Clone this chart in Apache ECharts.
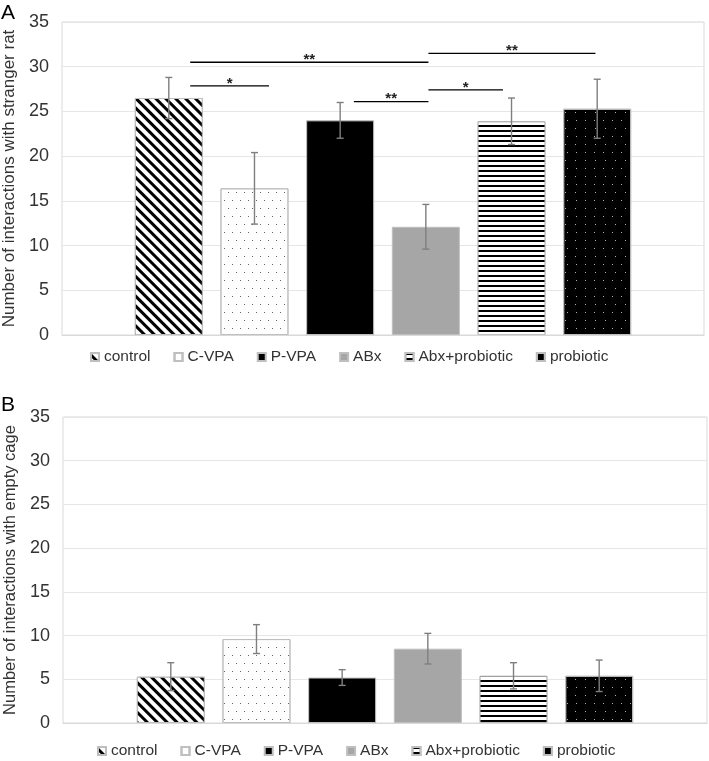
<!DOCTYPE html>
<html>
<head>
<meta charset="utf-8">
<script src="https://cdn.jsdelivr.net/npm/echarts@6/dist/echarts.min.js"></script>
<style>
html,body{margin:0;padding:0;background:#fff;}
#a{position:absolute;left:0;top:0;width:709px;height:375px;}
#b{position:absolute;left:0;top:375px;width:709px;height:386px;}
</style>
</head>
<body>
<div id="a"></div>
<div id="b"></div>
<script>
// ---- data ----
const groups = ['control', 'C-VPA', 'P-VPA', 'ABx', 'Abx+probiotic', 'probiotic'];
const meanA = [26.5, 16.4, 24.0, 12.1, 23.9, 25.3];
const errA  = [2.3, 4.0, 2.0, 2.5, 2.6, 3.3];
const meanB = [5.3, 9.6, 5.2, 8.5, 5.4, 5.4];
const errB  = [1.6, 1.65, 0.9, 1.75, 1.5, 1.8];
// significance brackets (panel A): from / to in bar-index units, height, label
const sigFrom  = [0.25, 0.25, 2.16, 3.03, 3.03];
const sigTo    = [1.17, 3.03, 3.03, 3.90, 4.98];
const sigY     = [27.85, 30.5, 26.1, 27.4, 31.5];
const sigLabel = ['*', '**', '**', '*', '**'];
const yTicks = [0, 5, 10, 15, 20, 25, 30, 35];

// ---- styles ----
const FONT = "'Liberation Sans', Arial, sans-serif";
const BAR_W = 68;
const GAP = 0.26;
const STEP = BAR_W * (1 + GAP);
function xOff(i) { return (i - (groups.length - 1) / 2) * STEP; }

const fills = [
  { color: '#ffffff', decal: { symbol: 'rect', dashArrayX: [1, 0], dashArrayY: [2.6, 3.3], rotation: Math.PI / 4, color: '#000000' } },
  { color: '#ffffff', decal: { symbol: 'rect', dashArrayX: [[1, 7], [0, 4, 1, 3]], dashArrayY: [1, 6.3], color: '#666666' } },
  { color: '#000000' },
  { color: '#a6a6a6' },
  { color: '#ffffff', decal: { symbol: 'rect', dashArrayX: [1, 0], dashArrayY: [1.6, 3.0], color: '#000000' } },
  { color: '#000000', decal: { symbol: 'rect', dashArrayX: [[1, 8], [0, 4.5, 1, 3.5]], dashArrayY: [1, 6.3], color: '#b0b0b0' } }
];

function buildOption(means, errs, yName, nameSize, letter, grid, legendTop, legendLeft, withSig) {
  const series = groups.map((g, i) => ({
    name: g,
    type: 'bar',
    barWidth: BAR_W,
    barGap: (GAP * 100) + '%',
    data: [means[i]],
    itemStyle: Object.assign({ borderColor: '#bfbfbf', borderWidth: 1 }, fills[i]),
    emphasis: { disabled: true },
    z: 2
  }));
  series.push({
    type: 'custom',
    name: 'err',
    z: 5,
    silent: true,
    data: groups.map((g, i) => [0, means[i], errs[i], i]),
    renderItem: function (params, api) {
      const m = api.value(1), e = api.value(2), idx = api.value(3);
      const top = api.coord([0, m + e]);
      const bot = api.coord([0, m - e]);
      const x = top[0] + xOff(idx);
      const cap = 3.5;
      const st = { stroke: '#7f7f7f', lineWidth: 1.4 };
      return { type: 'group', children: [
        { type: 'line', shape: { x1: x, y1: top[1], x2: x, y2: bot[1] }, style: st },
        { type: 'line', shape: { x1: x - cap, y1: top[1], x2: x + cap, y2: top[1] }, style: st },
        { type: 'line', shape: { x1: x - cap, y1: bot[1], x2: x + cap, y2: bot[1] }, style: st }
      ]};
    }
  });
  if (withSig) {
    series.push({
      type: 'custom',
      name: 'sig',
      z: 6,
      silent: true,
      data: sigFrom.map((f, k) => [0, sigY[k], f, sigTo[k], k]),
      renderItem: function (params, api) {
        const y = api.value(1), f = api.value(2), t = api.value(3), k = api.value(4);
        const p = api.coord([0, y]);
        const x1 = p[0] + xOff(f), x2 = p[0] + xOff(t);
        return { type: 'group', children: [
          { type: 'line', shape: { x1: x1, y1: p[1], x2: x2, y2: p[1] }, style: { stroke: '#000', lineWidth: 1.3 } },
          { type: 'text', x: (x1 + x2) / 2, y: p[1] + 5, style: { text: sigLabel[k], font: 'bold 15px ' + FONT, fill: '#222', align: 'center', verticalAlign: 'bottom' } }
        ]};
      }
    });
  }
  return {
    animation: false,
    backgroundColor: '#ffffff',
    grid: Object.assign({ show: true, borderColor: '#d9d9d9', borderWidth: 1, backgroundColor: 'transparent',
      containLabel: false, outerBoundsMode: 'none' }, grid),
    legend: {
      data: groups,
      top: legendTop,
      left: legendLeft,
      padding: 0,
      itemWidth: 8,
      itemHeight: 8,
      itemGap: 23,
      icon: 'rect',
      selectedMode: false,
      textStyle: { fontFamily: FONT, fontSize: 15.5, color: '#333' }
    },
    xAxis: {
      type: 'category',
      data: [''],
      axisLine: { show: true, lineStyle: { color: '#d9d9d9', width: 1 } },
      axisTick: { show: false },
      axisLabel: { show: false },
      splitLine: { show: false }
    },
    yAxis: {
      type: 'value',
      min: yTicks[0],
      max: yTicks[yTicks.length - 1],
      interval: yTicks[1] - yTicks[0],
      name: yName,
      nameLocation: 'middle',
      nameGap: 39,
      nameTextStyle: { fontFamily: FONT, fontSize: nameSize, color: '#333' },
      axisLine: { show: false },
      axisTick: { show: false },
      axisLabel: { fontFamily: FONT, fontSize: 18, color: '#333', margin: 13 },
      splitLine: { lineStyle: { color: '#e6e6e6', width: 1 } }
    },
    graphic: [{
      type: 'text', left: 1, top: letter.top,
      style: { text: letter.text, font: '21px ' + FONT, fill: '#000' }
    }],
    series: series
  };
}

const chartA = echarts.init(document.getElementById('a'), null, { renderer: 'canvas' });
chartA.setOption(buildOption(meanA, errA, 'Number of interactions with stranger rat', 17,
  { text: 'A', top: 3 }, { left: 62, right: 5, top: 22, bottom: 40 }, 349, 90, true));

const chartB = echarts.init(document.getElementById('b'), null, { renderer: 'canvas' });
chartB.setOption(buildOption(meanB, errB, 'Number of interactions with empty cage', 16.5,
  { text: 'B', top: 20 }, { left: 63, right: 2, top: 42, bottom: 38 }, 368, 97, false));
</script>
</body>
</html>
